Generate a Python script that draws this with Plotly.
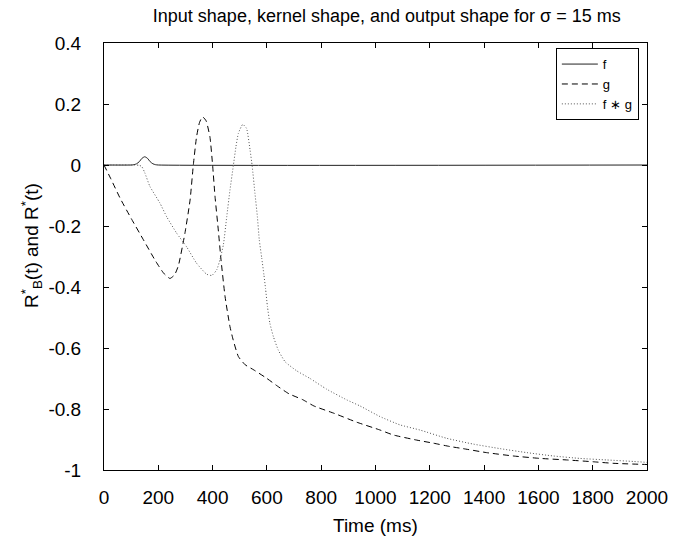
import plotly.graph_objects as go

# Input pulse f (Gaussian bump, sigma = 15 ms)
t_f = [0, 100, 110, 120, 130, 140, 150, 160, 170, 180, 190, 200, 2000]
f_vals = [0, 0, 0.001, 0.004, 0.011, 0.022, 0.027, 0.022, 0.011, 0.004, 0.001, 0, 0]

# Kernel g
t_g = [0, 25, 60, 100, 145, 190, 220, 243, 260, 274, 298, 317, 329, 341, 352, 363,
       376, 390, 400, 409, 421, 431, 446, 464, 476, 495, 520, 552, 597, 639, 681,
       731, 773, 850, 930, 1017, 1065, 1152, 1213, 1274, 1323, 1409, 1507, 1606,
       1704, 1802, 1875, 2000]
g_vals = [0, -0.045, -0.11, -0.175, -0.245, -0.315, -0.355, -0.372, -0.36, -0.33,
          -0.224, -0.115, 0, 0.093, 0.14, 0.158, 0.145, 0.093, 0, -0.104, -0.213,
          -0.311, -0.432, -0.53, -0.574, -0.628, -0.655, -0.672, -0.698, -0.725,
          -0.75, -0.769, -0.79, -0.815, -0.843, -0.869, -0.885, -0.902, -0.912,
          -0.923, -0.93, -0.943, -0.954, -0.962, -0.967, -0.973, -0.978, -0.982]

# Output f * g
t_fg = [0, 110, 130, 139, 150, 169, 206, 231, 268, 304, 341, 378, 397, 415, 427,
        440, 452, 464, 476, 486, 495, 511, 525, 538, 546, 556, 565, 572, 581, 589,
        595, 602, 611, 624, 642, 667, 710, 759, 820, 894, 943, 1017, 1090, 1164,
        1262, 1360, 1459, 1557, 1655, 1753, 1851, 1950, 2000]
fg_vals = [0, 0, -0.001, -0.005, -0.025, -0.07, -0.125, -0.17, -0.224, -0.268,
           -0.322, -0.358, -0.362, -0.344, -0.311, -0.26, -0.17, -0.082, -0.005,
           0.06, 0.104, 0.133, 0.12, 0.049, -0.005, -0.093, -0.17, -0.246, -0.305,
           -0.36, -0.405, -0.464, -0.519, -0.563, -0.607, -0.645, -0.675, -0.70,
           -0.735, -0.77, -0.79, -0.825, -0.852, -0.869, -0.896, -0.915, -0.93,
           -0.943, -0.954, -0.962, -0.967, -0.972, -0.975]

x_ticks = [0, 200, 400, 600, 800, 1000, 1200, 1400, 1600, 1800, 2000]
x_labels = ["0", "200", "400", "600", "800", "1000", "1200", "1400", "1600", "1800", "2000"]
y_ticks = [0.4, 0.2, 0, -0.2, -0.4, -0.6, -0.8, -1]
y_labels = ["0.4", "0.2", "0", "-0.2", "-0.4", "-0.6", "-0.8", "-1"]

FONT = "Liberation Sans, Arial, Helvetica, sans-serif"

fig = go.Figure()
fig.add_trace(go.Scatter(x=t_f, y=f_vals, name="f", mode="lines",
                         line=dict(color="#222222", width=1, shape="spline", smoothing=0.6)))
fig.add_trace(go.Scatter(x=t_g, y=g_vals, name="g", mode="lines",
                         line=dict(color="black", width=1, dash="6px,4px",
                                   shape="spline", smoothing=0.5)))
fig.add_trace(go.Scatter(x=t_fg, y=fg_vals, name="f \u2217 g", mode="lines",
                         line=dict(color="#555555", width=1, dash="1px,2px",
                                   shape="spline", smoothing=0.5)))

axis_common = dict(showline=True, linecolor="black", linewidth=1, mirror="ticks",
                   ticks="inside", ticklen=5, tickcolor="black", tickwidth=1,
                   showgrid=False, zeroline=False,
                   tickfont=dict(family=FONT, size=19, color="black"))

fig.update_xaxes(range=[0, 2000], tickvals=x_ticks, ticktext=x_labels,
                 ticklabelstandoff=10, **axis_common)
fig.update_yaxes(range=[-1, 0.4], tickvals=y_ticks, ticktext=y_labels,
                 ticklabelstandoff=18, **axis_common)

fig.update_layout(
    width=687, height=543,
    margin=dict(l=104, r=40, t=43, b=73),
    paper_bgcolor="white", plot_bgcolor="white",
    font=dict(family=FONT, size=19, color="black"),
    title=dict(text="Input shape, kernel shape, and output shape for \u03c3 = 15 ms",
               x=0.563, xanchor="center", y=1 - 16 / 543, yanchor="middle",
               font=dict(family=FONT, size=18, color="black")),
    showlegend=True,
    legend=dict(x=0.985, y=0.988, xanchor="right", yanchor="top",
                bgcolor="white", bordercolor="black", borderwidth=1,
                font=dict(family=FONT, size=13, color="black"),
                tracegroupgap=0, itemwidth=36),
    annotations=[
        dict(text="Time (ms)", xref="paper", yref="paper", x=0.5, y=-0.1304,
             xanchor="center", yanchor="middle", showarrow=False,
             font=dict(family=FONT, size=19, color="black")),
        dict(text="R<sup>*</sup><sub>B</sub>(t) and R<sup>*</sup>(t)",
             xref="paper", yref="paper", x=-0.1326, y=0.527, textangle=-90,
             xanchor="center", yanchor="middle", showarrow=False,
             font=dict(family=FONT, size=19, color="black")),
    ],
)

fig.write_html("out.html")
